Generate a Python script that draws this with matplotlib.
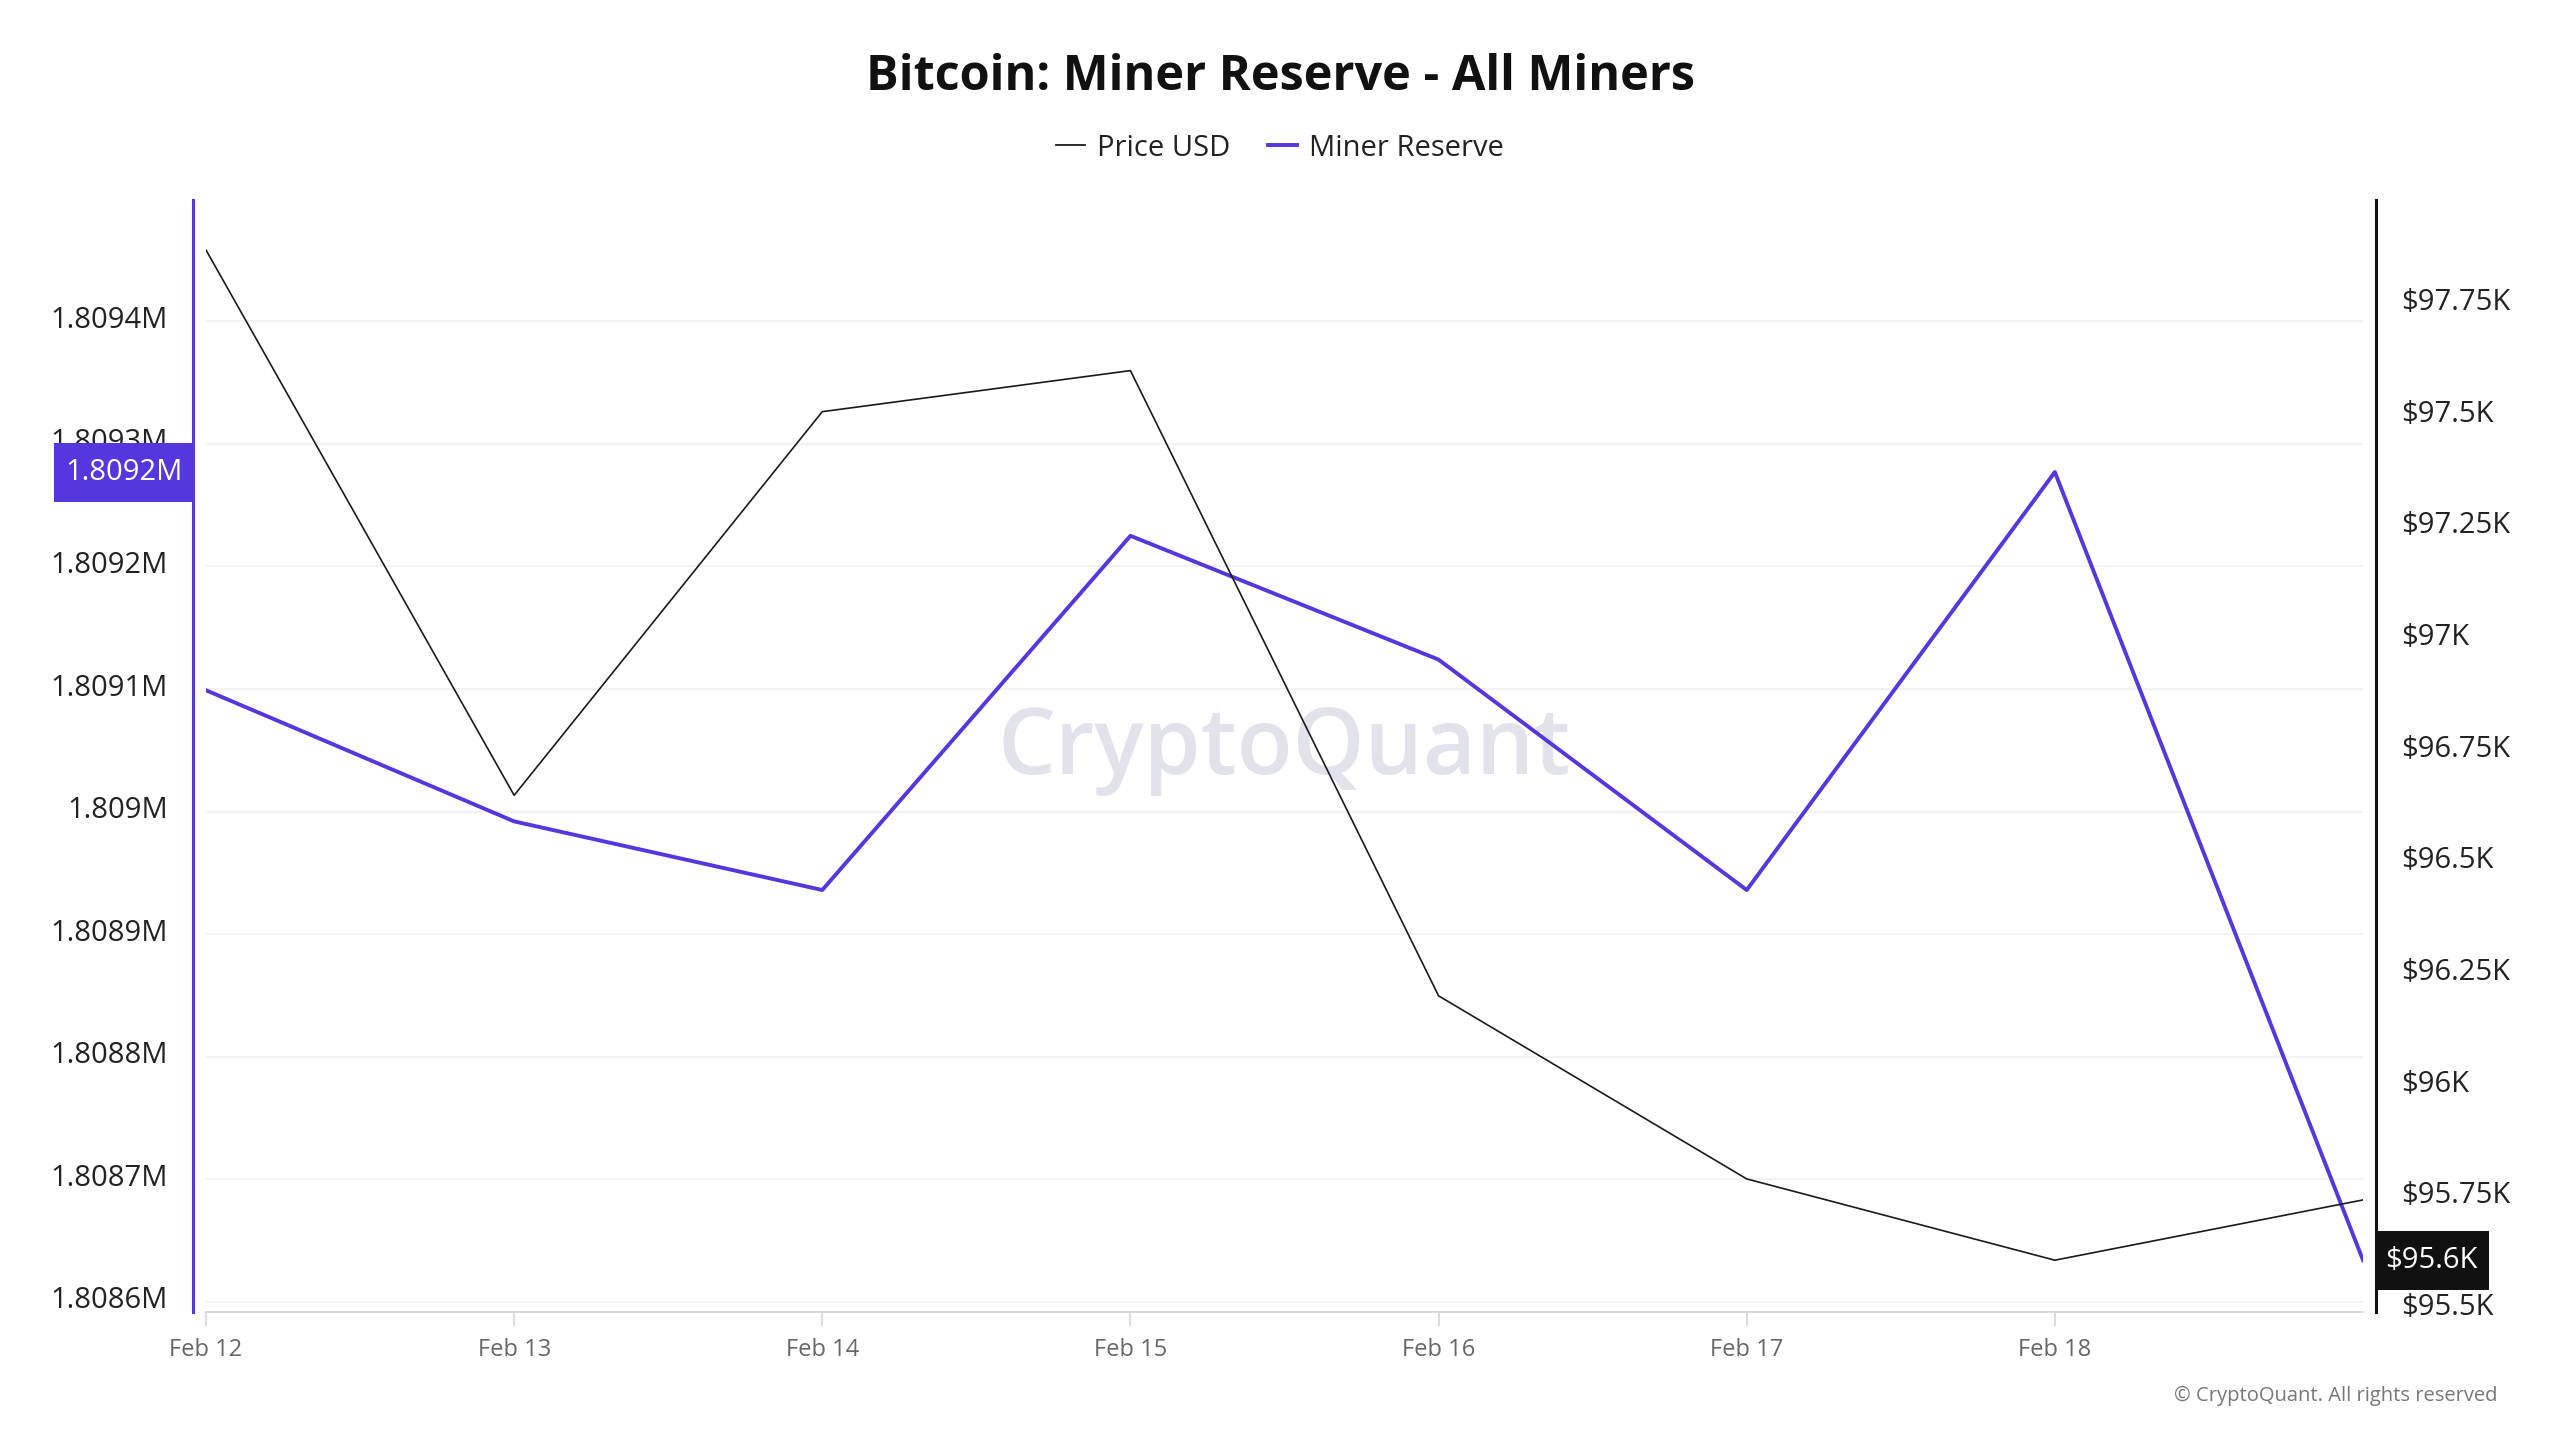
import numpy as np
import matplotlib
matplotlib.use("Agg")
import matplotlib.pyplot as plt
import matplotlib.transforms as mtransforms
from matplotlib.patches import Rectangle
from matplotlib.ticker import MultipleLocator, FuncFormatter
from matplotlib.lines import Line2D

plt.rcParams["font.family"] = ["Open Sans", "DejaVu Sans"]

# data
dates = ["Feb 12", "Feb 13", "Feb 14", "Feb 15", "Feb 16", "Feb 17", "Feb 18", "Feb 19"]
miner_reserve = [1809099, 1808992, 1808936, 1809225, 1809124, 1808936, 1809277, 1808634]
price_usd = [97870, 96649, 97508, 97600, 96200, 95790, 95608, 95743]
tick_dates = dates[:-1]
reserve_label = "1.8092M"
price_label = "$95.6K"
label_idx = 6

PURPLE = "#5536DF"
W, H = 2560, 1440

fig = plt.figure(figsize=(25.6, 14.4), dpi=100)
ax = fig.add_axes([206 / W, 1 - 1312 / H, (2363 - 206) / W, (1312 - 200) / H])
ax2 = ax.twinx()

x = np.arange(len(dates))
ax.plot(x, miner_reserve, color=PURPLE, lw=2.8, zorder=3)
ax2.plot(x, price_usd, color="#1a1a1a", lw=1.2, zorder=3)

ax.set_xlim(0, len(dates) - 1)
ax.set_ylim(1808591.7, 1809499)
ax2.set_ylim(95492, 97982)

ax.yaxis.set_major_locator(MultipleLocator(100))
ax2.yaxis.set_major_locator(MultipleLocator(250))
ax.yaxis.set_major_formatter(FuncFormatter(
    lambda v, p: f"{v / 1e6:.4f}".rstrip("0").rstrip(".") + "M"))
ax2.yaxis.set_major_formatter(FuncFormatter(
    lambda v, p: "$" + f"{v / 1e3:.2f}".rstrip("0").rstrip(".") + "K"))

ax.set_xticks(np.arange(len(tick_dates)))
ax.set_xticklabels(tick_dates)
ax.tick_params(axis="x", length=10, width=1.2, color="#d4d4dc", pad=9,
               labelsize=17, labelcolor="#666666")
ax.tick_params(axis="y", length=0, pad=18, labelsize=21, labelcolor="#222222")
ax2.tick_params(axis="y", length=0, pad=18, labelsize=21, labelcolor="#222222")

ax.grid(axis="y", color="#f2f2f2", lw=1.5)
ax.set_axisbelow(True)

for a in (ax, ax2):
    a.spines["top"].set_visible(False)
ax.spines["right"].set_visible(False)
ax2.spines["left"].set_visible(False)
ax2.spines["bottom"].set_visible(False)
ax.spines["left"].set_position(("outward", 9.4))
ax.spines["left"].set_color(PURPLE)
ax.spines["left"].set_linewidth(2.2)
ax2.spines["right"].set_position(("outward", 9.4))
ax2.spines["right"].set_color("#111111")
ax2.spines["right"].set_linewidth(2.2)
ax.spines["bottom"].set_color("#d4d4dc")
ax.spines["bottom"].set_linewidth(1.2)

# watermark
ax.text(0.5, 0.505, "CryptoQuant", transform=ax.transAxes, ha="center", va="center",
        fontsize=66, fontweight="semibold", color="#e2e2ea", zorder=0)


# current value tags: box height 59 px, box spans given in pixels from the axes edge
def value_tag(a, value, text, color, left):
    ax_w = a.get_position().width * W
    px_per_unit = (a.transData.transform((0, 1))[1] - a.transData.transform((0, 0))[1])
    h = 59 / px_per_unit
    if left:
        x0, w = -152 / ax_w, 139 / ax_w
        tx, ha = -23 / ax_w, "right"
    else:
        x0, w = (2376 - 2363) / ax_w + 1, 113 / ax_w
        tx, ha = 1 + (2385 - 2363) / ax_w, "left"
    tr = a.get_yaxis_transform()
    a.add_patch(Rectangle((x0, value - h / 2), w, h, transform=tr, fc=color, ec="none",
                          clip_on=False, zorder=5))
    a.text(tx, value, text, transform=tr, ha=ha, va="center", fontsize=21, color="white",
           zorder=6, clip_on=False)


value_tag(ax, miner_reserve[label_idx], reserve_label, PURPLE, True)
value_tag(ax2, price_usd[label_idx], price_label, "#111111", False)

fig.text(0.5, 1 - 78 / H, "Bitcoin: Miner Reserve - All Miners", ha="center", va="center",
         fontsize=35, fontweight="bold", color="#111111")

handles = [Line2D([], [], color="#1a1a1a", lw=1.3), Line2D([], [], color=PURPLE, lw=2.8)]
fig.legend(handles, ["Price USD", "Miner Reserve"], loc="center", bbox_to_anchor=(0.5, 1 - 148 / H),
           ncol=2, frameon=False, fontsize=21, handlelength=1.0, handletextpad=0.4,
           columnspacing=1.3, labelcolor="#222222")

fig.text(2497 / W, 1 - 1396 / H, "© CryptoQuant. All rights reserved", ha="right", va="center",
         fontsize=14.5, color="#777777")

# y labels sit a few pixels above their gridlines in the reference
fig.canvas.draw()
lift = mtransforms.ScaledTranslation(0, 0.045, fig.dpi_scale_trans)
for a in (ax, ax2):
    for t in a.yaxis.get_major_ticks():
        for lab in (t.label1, t.label2):
            lab.set_transform(lab.get_transform() + lift)

fig.savefig("out.png", dpi=100, facecolor="white")
